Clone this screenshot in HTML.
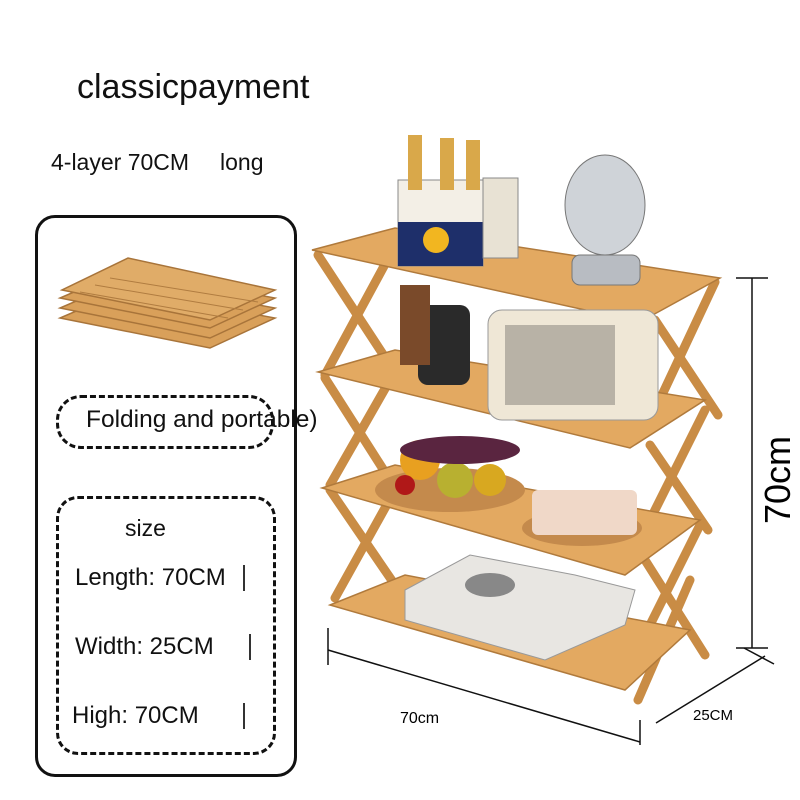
<!DOCTYPE html>
<html><head><style>
body{margin:0;width:800px;height:800px;background:#fff;position:relative;overflow:hidden;font-family:"Liberation Sans",sans-serif;color:#111}
.t{position:absolute;white-space:nowrap}
.bar{position:absolute;width:1.5px;height:26px;background:#333}
</style></head><body>
<div class="t" style="left:77px;top:68px;font-size:34px">classicpayment</div>
<div class="t" style="left:51px;top:149px;font-size:23px">4-layer 70CM</div>
<div class="t" style="left:220px;top:149px;font-size:23px">long</div>
<div style="position:absolute;left:35px;top:215px;width:256px;height:556px;border:3px solid #111;border-radius:20px"></div>
<div style="position:absolute;left:56px;top:395px;width:212px;height:48px;border:3px dashed #111;border-radius:25px"></div>
<div class="t" style="left:86px;top:406px;font-size:24.5px">Folding and portable)</div>
<div style="position:absolute;left:56px;top:496px;width:214px;height:253px;border:3px dashed #111;border-radius:22px"></div>
<div class="t" style="left:125px;top:515px;font-size:23px">size</div>
<div class="t" style="left:75px;top:564px;font-size:24px">Length: 70CM</div>
<div class="t" style="left:75px;top:633px;font-size:24px">Width: 25CM</div>
<div class="t" style="left:72px;top:702px;font-size:24px">High: 70CM</div>
<div class="bar" style="left:243px;top:565px"></div>
<div class="bar" style="left:249px;top:634px"></div>
<div class="bar" style="left:243px;top:703px"></div>
<svg width="800" height="800" style="position:absolute;left:0;top:0">
<g fill="#d9a05a" stroke="#a8743a" stroke-width="1.5">
<polygon points="60,318 210,348 275,318 125,290"/>
<polygon points="60,308 210,338 275,308 125,280"/>
<polygon points="60,298 210,328 275,298 125,270"/>
<polygon points="62,290 210,320 275,290 128,258" fill="#e0ac68"/>
</g>
<g stroke="#b07c40" stroke-width="1"><line x1="80" y1="292" x2="228" y2="318"/><line x1="95" y1="285" x2="243" y2="310"/><line x1="110" y1="278" x2="258" y2="302"/></g>
<g stroke="#c98c45" stroke-width="9" stroke-linecap="round">
<line x1="318" y1="255" x2="390" y2="365"/><line x1="390" y1="255" x2="325" y2="375"/>
<line x1="325" y1="378" x2="390" y2="480"/><line x1="390" y1="380" x2="330" y2="485"/>
<line x1="330" y1="490" x2="395" y2="585"/><line x1="395" y1="490" x2="335" y2="598"/>
<line x1="715" y1="282" x2="655" y2="410"/><line x1="655" y1="320" x2="718" y2="415"/>
<line x1="705" y1="410" x2="645" y2="530"/><line x1="650" y1="445" x2="708" y2="530"/>
<line x1="700" y1="525" x2="640" y2="645"/><line x1="645" y1="560" x2="705" y2="655"/>
<line x1="690" y1="580" x2="638" y2="700"/>
</g>
<g fill="#e3a961" stroke="#b07a3c" stroke-width="1.5">
<polygon points="312,250 395,228 720,278 640,322"/>
<polygon points="318,372 395,350 705,400 630,448"/>
<polygon points="322,488 395,465 700,520 625,575"/>
<polygon points="330,605 405,575 690,630 625,690"/>
</g>
<rect x="398" y="180" width="85" height="86" fill="#f3efe6" stroke="#888"/>
<rect x="398" y="222" width="85" height="44" fill="#1e2f6a"/>
<circle cx="436" cy="240" r="13" fill="#f2b620"/>
<rect x="483" y="178" width="35" height="80" fill="#e8e2d4" stroke="#888"/>
<rect x="408" y="135" width="14" height="55" fill="#d9a84a"/><rect x="440" y="138" width="14" height="52" fill="#d9a84a"/><rect x="466" y="140" width="14" height="50" fill="#d9a84a"/>
<ellipse cx="605" cy="205" rx="40" ry="50" fill="#cfd3d8" stroke="#777"/>
<rect x="572" y="255" width="68" height="30" rx="8" fill="#b8bcc2" stroke="#777"/>
<rect x="488" y="310" width="170" height="110" rx="14" fill="#efe7d6" stroke="#999"/>
<rect x="505" y="325" width="110" height="80" fill="#b8b2a6"/>
<rect x="418" y="305" width="52" height="80" rx="10" fill="#2a2a2a"/>
<rect x="400" y="285" width="30" height="80" fill="#7a4a2a"/>
<ellipse cx="450" cy="490" rx="75" ry="22" fill="#c48a4c"/>
<circle cx="420" cy="460" r="20" fill="#e8a020"/><circle cx="455" cy="480" r="18" fill="#b8b030"/><circle cx="490" cy="480" r="16" fill="#d8a820"/><circle cx="405" cy="485" r="10" fill="#b01818"/>
<ellipse cx="460" cy="450" rx="60" ry="14" fill="#5a2540"/>
<ellipse cx="582" cy="528" rx="60" ry="18" fill="#c48a4c"/>
<rect x="532" y="490" width="105" height="45" rx="6" fill="#f0d8c8"/>
<polygon points="405,590 470,555 575,575 635,590 625,625 545,660 405,620" fill="#e8e6e2" stroke="#999"/>
<ellipse cx="490" cy="585" rx="25" ry="12" fill="#888"/>
<g stroke="#111" stroke-width="1.5" fill="none">
<line x1="752" y1="278" x2="752" y2="648"/><line x1="736" y1="278" x2="768" y2="278"/><line x1="736" y1="648" x2="768" y2="648"/>
<line x1="328" y1="650" x2="640" y2="742"/><line x1="328" y1="628" x2="328" y2="665"/><line x1="640" y1="720" x2="640" y2="745"/>
<line x1="656" y1="723" x2="765" y2="656"/><line x1="744" y1="648" x2="774" y2="664"/>
</g>
<text x="790" y="480" font-size="36" font-family="Liberation Sans" transform="rotate(-90 790 480)" text-anchor="middle">70cm</text>
<text x="400" y="723" font-size="16" font-family="Liberation Sans">70cm</text>
<text x="693" y="720" font-size="15" font-family="Liberation Sans">25CM</text>
</svg>
</body></html>
